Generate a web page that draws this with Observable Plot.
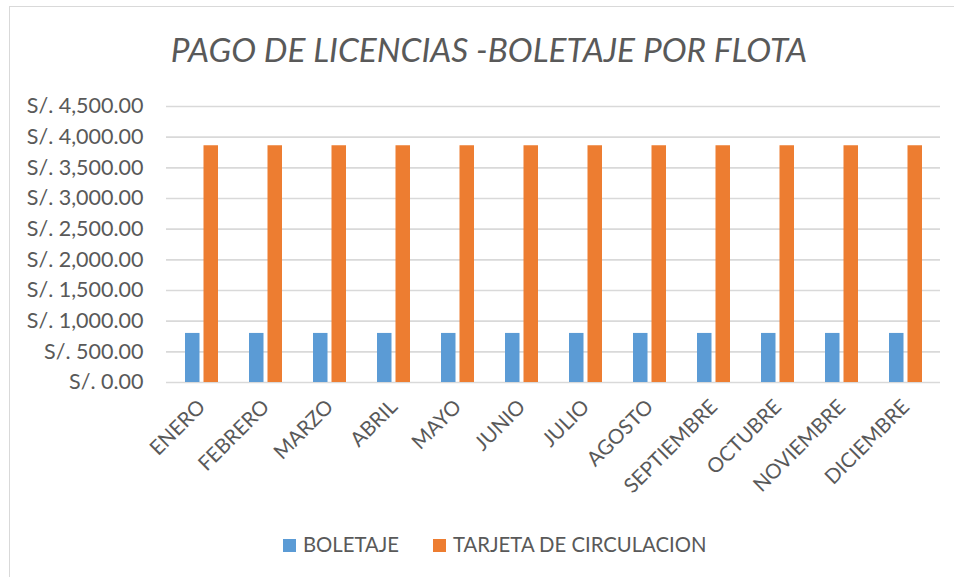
<!DOCTYPE html>
<html><head><meta charset="utf-8">
<script src="https://cdn.jsdelivr.net/npm/d3@7"></script>
<script src="https://cdn.jsdelivr.net/npm/@observablehq/plot@0.6"></script>
<style>
body{margin:0;background:#fff;}
#wrap{position:relative;width:954px;height:577px;overflow:hidden;font-family:Lato,"Open Sans",sans-serif;}
#frame{position:absolute;left:9px;top:6px;width:960px;height:600px;border-left:1.5px solid #d9d9d9;border-top:1.5px solid #d9d9d9;}
#title{position:absolute;left:12px;width:954px;top:29px;text-align:center;font-style:italic;font-size:33.4px;color:#595959;white-space:nowrap;}
#chart{position:absolute;left:0;top:0;}
#legend{position:absolute;left:283px;top:532px;font-size:20.3px;color:#595959;white-space:nowrap;}
#legend span.sw{display:inline-block;width:13px;height:13px;margin-right:7px;vertical-align:0px;}
#legend span.it{margin-right:34px;}
</style></head>
<body>
<div id="wrap">
<div id="frame"></div>
<div id="title">PAGO DE LICENCIAS -BOLETAJE POR FLOTA</div>
<div id="chart"></div>
<div id="legend"></div>
</div>
<script>
const months = ["ENERO","FEBRERO","MARZO","ABRIL","MAYO","JUNIO","JULIO","AGOSTO","SEPTIEMBRE","OCTUBRE","NOVIEMBRE","DICIEMBRE"];
const series = ["BOLETAJE","TARJETA DE CIRCULACION"];
const boletaje = [800,800,800,800,800,800,800,800,800,800,800,800];
const tarjeta = [3860,3860,3860,3860,3860,3860,3860,3860,3860,3860,3860,3860];
const colors = ["#5B9BD5","#ED7D31"];
const yTicks = [0,500,1000,1500,2000,2500,3000,3500,4000,4500];

const dataB = months.map((m,i)=>({month:m, serie:series[0], value:boletaje[i]}));
const dataT = months.map((m,i)=>({month:m, serie:series[1], value:tarjeta[i]}));
const fmt = d => "S/. " + d3.format(",.2f")(d);

const chart = Plot.plot({
  width: 954,
  height: 520,
  marginLeft: 166,
  marginRight: 14,
  marginTop: 106,
  marginBottom: 138,
  style:{fontFamily:"Lato, 'Open Sans', sans-serif", fontSize:"20.5px", color:"#595959", background:"transparent"},
  x:{domain:months, paddingInner:0.488, paddingOuter:0.244, label:null, tickSize:0, tickRotate:-45, tickPadding:21},
  y:{domain:[0,4500], ticks:yTicks, tickFormat:fmt, label:null, tickSize:0, tickPadding:23},
  color:{domain:series, range:colors},
  marks:[
    Plot.gridY(yTicks,{stroke:"#d9d9d9", strokeOpacity:1, strokeWidth:1.6}),
    Plot.barY(dataB,{x:"month", y:"value", fill:"serie", insetRight:18.5}),
    Plot.barY(dataT,{x:"month", y:"value", fill:"serie", insetLeft:18.5})
  ]
});
chart.querySelectorAll("g[aria-label='y-axis tick label'] text").forEach(t=>t.style.fontSize="21.5px");
document.getElementById("chart").appendChild(chart);

const leg = document.getElementById("legend");
series.forEach((s,i)=>{
  const it = document.createElement("span");
  it.className="it";
  it.innerHTML = `<span class="sw" style="background:${colors[i]}"></span>${s}`;
  leg.appendChild(it);
});
</script>
</body></html>
